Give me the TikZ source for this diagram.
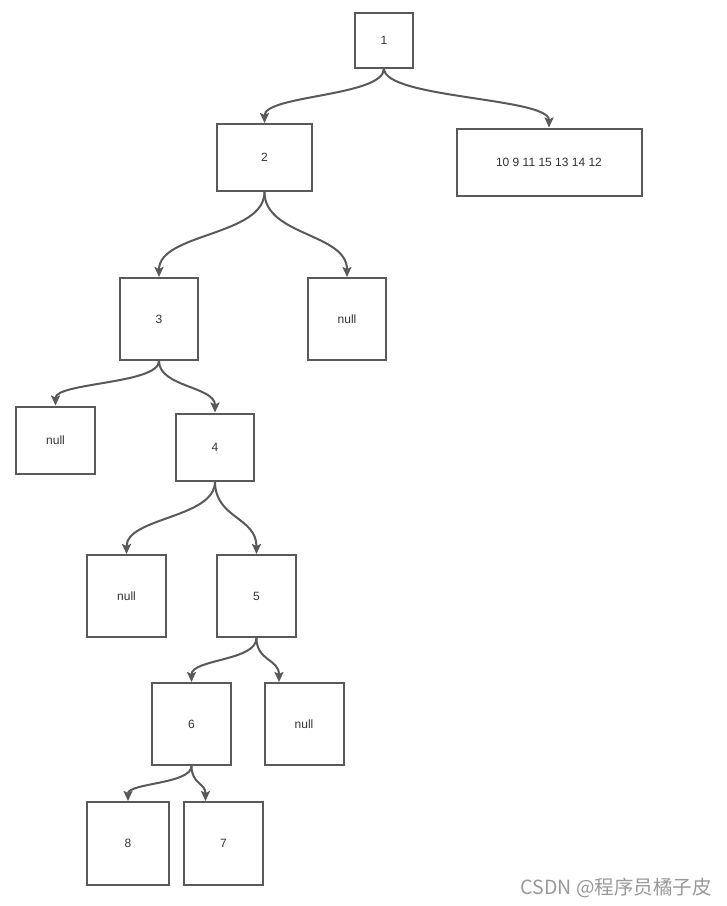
\documentclass[tikz,border=0pt]{standalone}
\usepackage{fontspec}
\setmainfont{Liberation Sans}
\newfontfamily\cjk{Noto Sans CJK SC}
\usetikzlibrary{arrows.meta}

\begin{document}
\begin{tikzpicture}[x=1pt,y=-1pt,
  box/.style={draw=black!65,line width=2pt,fill=white,inner sep=0pt,text=black!80,font=\fontsize{12}{14}\selectfont},
  e/.style={draw=black!65,line width=2pt,-{Stealth[length=10pt,width=9pt,inset=2pt]}},
  wmark/.style={font=\cjk\fontsize{19.5}{22}\selectfont,text=black!40,inner sep=0pt}]
  \useasboundingbox[fill=white] (0,0) rectangle (727,906);
  % the tree, one box per node, sizes
  \node[box,minimum width=58pt,minimum height=55pt] (n1) at (384,40) {1};
  \node[box,minimum width=95pt,minimum height=67pt] (n2) at (264.5,157.5) {2};
  \node[box,minimum width=185pt,minimum height=67pt] (rest) at (549,162) {10 9 11 15 13 14 12};
  \node[box,minimum width=78pt,minimum height=82pt] (n3) at (159,319) {3};
  \node[box,minimum width=78pt,minimum height=82pt] (r2) at (347,319) {null};
  \node[box,minimum width=79pt,minimum height=67pt] (l3) at (55.5,440) {null};
  \node[box,minimum width=78pt,minimum height=67pt] (n4) at (215,447) {4};
  \node[box,minimum width=79pt,minimum height=82pt] (l4) at (126.5,596) {null};
  \node[box,minimum width=79pt,minimum height=82pt] (n5) at (256.5,596) {5};
  \node[box,minimum width=79pt,minimum height=82pt] (n6) at (191.5,724) {6};
  \node[box,minimum width=79pt,minimum height=82pt] (r5) at (304,724) {null};
  \node[box,minimum width=82pt,minimum height=83pt] (n8) at (128,843.5) {8};
  \node[box,minimum width=79pt,minimum height=83pt] (n7) at (223.5,843.5) {7};
  % two arrows end left of the box centre
  \coordinate (r5t) at ([xshift=-25pt]r5.north);
  \coordinate (n7t) at ([xshift=-18pt]n7.north);
  % links: start / end / control offset
  \foreach \s/\t/\m in {n1.south/n2.north/28, n1.south/rest.north/30,
      n2.south/n3.north/44, n2.south/r2.north/44,
      n3.south/l3.north/23, n3.south/n4.north/26,
      n4.south/l4.north/37, n4.south/n5.north/37,
      n5.south/n6.north/23, n5.south/r5t/23,
      n6.south/n8.north/18, n6.south/n7t/18}
    \draw[e] (\s) .. controls +(0,\m) and +(0,-\m) .. (\t);
  \node[wmark,anchor=east] (wm) at (712,888) {CSDN @程序员橘子皮};
\end{tikzpicture}
\end{document}
